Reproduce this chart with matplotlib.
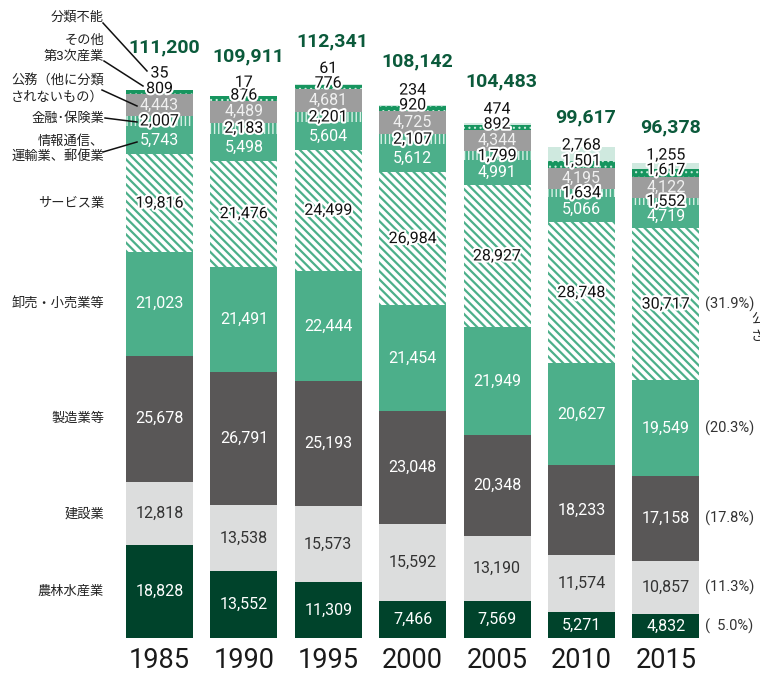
import matplotlib
matplotlib.use("Agg")
import matplotlib.pyplot as plt
import matplotlib.patheffects as pe
import numpy as np

plt.rcParams['font.family'] = ['Roboto', 'Noto Sans CJK JP', 'DejaVu Sans']

# データ（下から積み上げ順）
years = ["1985", "1990", "1995", "2000", "2005", "2010", "2015"]
agri = [18828, 13552, 11309, 7466, 7569, 5271, 4832]
construction = [12818, 13538, 15573, 15592, 13190, 11574, 10857]
manufacturing = [25678, 26791, 25193, 23048, 20348, 18233, 17158]
wholesale = [21023, 21491, 22444, 21454, 21949, 20627, 19549]
service = [19816, 21476, 24499, 26984, 28927, 28748, 30717]
info = [5743, 5498, 5604, 5612, 4991, 5066, 4719]
finance = [2007, 2183, 2201, 2107, 1799, 1634, 1552]
public = [4443, 4489, 4681, 4725, 4344, 4195, 4122]
other = [809, 876, 776, 920, 892, 1501, 1617]
unclassified = [35, 17, 61, 234, 474, 2768, 1255]
totals = [111200, 109911, 112341, 108142, 104483, 99617, 96378]
share_2015 = [5.0, 11.3, 17.8, 20.3, 31.9]  # 農林, 建設, 製造, 卸売, サービス

# px -> data の換算
W, H = 760, 674
PX = 0.004928        # px / 人
base_px = 638
left_px, right_px = 117.3, 708.1
top_px = 10

fig = plt.figure(figsize=(7.6, 6.74), dpi=100)
ax = fig.add_axes([left_px / W, (H - base_px) / H,
                   (right_px - left_px) / W, (base_px - top_px) / H])
ax.set_xlim(-0.5, 6.5)
ax.set_ylim(0, (base_px - top_px) / PX)
ax.axis("off")

def px2y(py):
    return (base_px - py) / PX

def px2x(px):
    return (px - left_px) / ((right_px - left_px) / 7) - 0.5

GREEN = "#4caf8a"
series = [
    (agri, dict(color="#00432b"), "w"),
    (construction, dict(color="#dcdddd"), "#333333"),
    (manufacturing, dict(color="#595757"), "w"),
    (wholesale, dict(color=GREEN), "w"),
    (service, dict(facecolor="white", edgecolor=GREEN, hatch="\\\\\\\\", hlw=1.6), "outline"),
    (info, dict(color=GREEN), "w"),
    (finance, dict(facecolor=GREEN, edgecolor="#d8efe5", hatch="||||", hlw=1.0), "outline"),
    (public, dict(color="#9d9d9d"), "#f0f0f0"),
    (other, dict(facecolor="#17955f", edgecolor="#c8eadb", hatch="...", hlw=0.8), "outline"),
    (unclassified, dict(color="#cfe9df"), "outline"),
]

x = np.arange(len(years))
width = 0.794
bottom = np.zeros(len(years))
seg_centers = []
outline = [pe.withStroke(linewidth=3, foreground="white")]

for vals, style, tcol in series:
    vals = np.array(vals, dtype=float)
    st = dict(style)
    hlw = st.pop("hlw", 1.0)
    with plt.rc_context({"hatch.linewidth": hlw}):
        ax.bar(x, vals, width, bottom=bottom, linewidth=0, **st)
    seg_centers.append(bottom + vals / 2)
    bottom = bottom + vals

num_fs = 11.5
# 区分ごとの値ラベル（その他・分類不能以外）
for k, (vals, style, tcol) in enumerate(series[:8]):
    for i in range(len(years)):
        kw = dict(ha="center", va="center", fontsize=num_fs)
        if tcol == "outline":
            kw.update(color="#111111", path_effects=outline)
        else:
            kw.update(color=tcol)
        ax.text(x[i], seg_centers[k][i], f"{vals[i]:,}", **kw)

# その他第3次産業
for i in range(len(years)):
    ax.text(x[i], seg_centers[8][i] + 3.5 / PX, f"{other[i]:,}", ha="center", va="center",
            fontsize=num_fs, color="#111111", path_effects=outline)

# 分類不能（棒の上）
unc_off = [17, 14, 16, 15, 14, 2, 8]
for i in range(len(years)):
    ax.text(x[i], totals[i] + unc_off[i] / PX, f"{unclassified[i]:,}", ha="center", va="center",
            fontsize=num_fs, color="#111111", path_effects=outline)

# 合計
tot_off = [43, 40, 43, 44, 42, 30, 36]
for i in range(len(years)):
    ax.text(x[i] + 0.05, totals[i] + tot_off[i] / PX, f"{totals[i]:,}", ha="center", va="center",
            fontsize=14, fontweight="bold", color="#0b5a3b")

# 年
for i in range(len(years)):
    ax.text(x[i], px2y(660), years[i], ha="center", va="center", fontsize=19.5,
            color="#1a1a1a", family=["Liberation Sans Narrow", "Roboto", "DejaVu Sans"])

# 2015年の構成比
for k, s in enumerate(share_2015):
    ax.text(px2x(705), seg_centers[k][6], f"({s:4.1f}%)".replace("( ", "(  "),
            ha="left", va="center", fontsize=10.5, color="#333333")

# 左側の項目名（1985年の区分の中央）
lab_fs = 9.5
lab_x = px2x(104)
left_names = ["農林水産業", "建設業", "製造業等", "卸売・小売業等", "サービス業"]
for k, name in enumerate(left_names):
    ax.text(lab_x, seg_centers[k][0], name, ha="right", va="center", fontsize=lab_fs,
            color="#222222")

# 引き出し線付きの項目名
callouts = [
    ("情報通信、\n運輸業、郵便業", 149, (103, 152), (137, 142)),
    ("金融･保険業", 118, (105, 118), (137, 122)),
    ("公務（他に分類\nされないもの）", 89, (102, 90), (137, 106)),
    ("その他\n第3次産業", 48, (104, 61), (143, 86)),
    ("分類不能", 17, (103, 23), (147, 71)),
]
for name, ty, p0, p1 in callouts:
    ax.text(lab_x, px2y(ty), name, ha="right", va="center", fontsize=lab_fs,
            color="#222222", linespacing=1.25)
    ax.plot([px2x(p0[0]), px2x(p1[0])], [px2y(p0[1]), px2y(p1[1])],
            color="#111111", lw=1.1, clip_on=False)

# 右端で切れている注記
ax.text(px2x(751), px2y(328), "公務（他に分類\nされないもの）", ha="left", va="center",
        fontsize=lab_fs, color="#222222", clip_on=False, linespacing=1.25)

fig.savefig("out.png", dpi=100)
